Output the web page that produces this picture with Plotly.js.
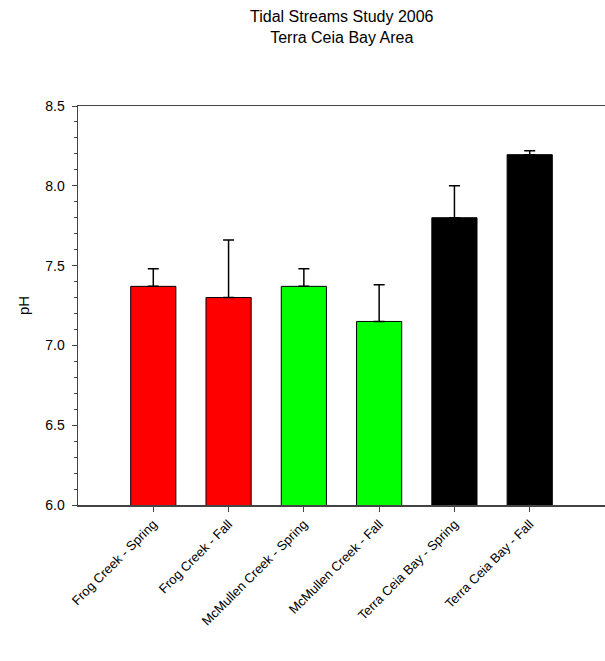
<!DOCTYPE html>
<html>
<head>
<meta charset="utf-8">
<script src="https://cdn.plot.ly/plotly-3.0.1.min.js"></script>
<style>html,body{margin:0;padding:0;background:#fff;}#chart{width:605px;height:661px;}</style>
</head>
<body>
<div id="chart"></div>
<script>
const categories = ["Frog Creek - Spring", "Frog Creek - Fall", "McMullen Creek - Spring", "McMullen Creek - Fall", "Terra Ceia Bay - Spring", "Terra Ceia Bay - Fall"];
const phValues = [7.37, 7.30, 7.37, 7.15, 7.80, 8.195];
const phErrorUp = [0.11, 0.36, 0.11, 0.23, 0.20, 0.025];
const barColors = ["#ff0000", "#ff0000", "#00ff00", "#00ff00", "#000000", "#000000"];
const yTickVals = [6.0, 6.5, 7.0, 7.5, 8.0, 8.5];
const titleLines = ["Tidal Streams Study 2006", "Terra Ceia Bay Area"];

const font = "Liberation Sans, Arial, sans-serif";

const trace = {
  type: "bar",
  x: categories.map((_, i) => i),
  y: phValues,
  base: 0,
  width: 0.6,
  marker: {color: barColors, line: {color: "#000000", width: 1}},
  error_y: {type: "data", array: phErrorUp, arrayminus: phErrorUp.map(() => 0), symmetric: false, color: "#000000", thickness: 1.5, width: 5.5},
  hoverinfo: "none"
};

const layout = {
  width: 605, height: 661,
  margin: {l: 78, r: 0, t: 106, b: 156, pad: 0},
  paper_bgcolor: "#ffffff", plot_bgcolor: "#ffffff",
  showlegend: false,
  font: {family: font, color: "#000000"},
  annotations: [{
    text: titleLines.join("<br>"), xref: "paper", yref: "paper", x: 0.5, y: (505 - 27) / 399,
    xanchor: "center", yanchor: "middle", showarrow: false,
    font: {family: font, size: 16, color: "#000000"}
  }],
  xaxis: {
    range: [-1, 6], tickmode: "array", tickvals: categories.map((_, i) => i), ticktext: categories,
    tickangle: -45, ticks: "outside", ticklen: 5, tickwidth: 1, tickcolor: "#444",
    showline: true, linecolor: "#444", linewidth: 1.5, mirror: true,
    showgrid: false, zeroline: false, tickfont: {family: font, size: 13, color: "#000"}
  },
  yaxis: {
    range: [6.0, 8.5], tickmode: "array", tickvals: yTickVals, tickformat: ".1f",
    ticks: "outside", ticklen: 5, tickwidth: 1, tickcolor: "#444",
    minor: {dtick: 0.1, ticks: "outside", ticklen: 3, tickwidth: 1, tickcolor: "#444"},
    showline: true, linecolor: "#444", linewidth: 1.5, ticklabelstandoff: 4,
    showgrid: false, zeroline: false, tickfont: {family: font, size: 14, color: "#000"},
    title: {text: "pH", font: {family: font, size: 15, color: "#000"}, standoff: 12}
  }
};

Plotly.newPlot("chart", [trace], layout, {staticPlot: true, displayModeBar: false});
</script>
</body>
</html>
